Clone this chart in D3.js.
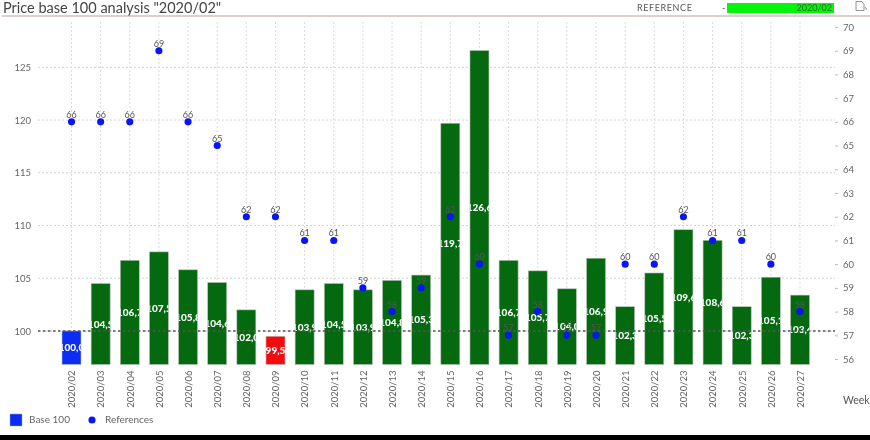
<!DOCTYPE html>
<html>
<head>
<meta charset="utf-8">
<script src="https://cdn.jsdelivr.net/npm/d3@7"></script>
<style>
  html, body { margin: 0; padding: 0; background: #fff; }
  svg { display: block; filter: blur(0.7px); font-family: Lato, "Open Sans", sans-serif; }
  .domain { display: none; }
</style>
</head>
<body>
<div id="chart"></div>
<script>
const weeks = ["2020/02","2020/03","2020/04","2020/05","2020/06","2020/07","2020/08","2020/09","2020/10","2020/11","2020/12","2020/13","2020/14","2020/15","2020/16","2020/17","2020/18","2020/19","2020/20","2020/21","2020/22","2020/23","2020/24","2020/25","2020/26","2020/27"];
const base100 = [100.0,104.5,106.7,107.5,105.8,104.6,102.0,99.5,103.9,104.5,103.9,104.8,105.3,119.7,126.6,106.7,105.7,104.0,106.9,102.3,105.5,109.6,108.6,102.3,105.1,103.4];
const references = [66,66,66,69,66,65,62,62,61,61,59,58,59,62,60,57,58,57,57,60,60,62,61,61,60,58];
const leftTicks = [100,105,110,115,120,125];
const rightTicks = d3.range(56, 71);

const width = 870, height = 440;
const plotTop = 22, plotBottom = 364.5, plotLeft = 38, plotRight = 835;

const svg = d3.select("#chart").append("svg").attr("width", width).attr("height", height);

let x = d3.scalePoint().domain(weeks).range([71.5, 800]);
let yLeft = d3.scaleLinear().domain([96.82, 129.3]).range([plotBottom, plotTop]);
let yRight = d3.scaleLinear().domain([55.77, 70.21]).range([plotBottom, plotTop]);

const barWidth = 19;

function barColor(v) {
    if (v === 100) return "#0a2cf5";
    return v < 100 ? "#f50a0f" : "#04690f";
}

// header
svg.append("text").attr("x", 3).attr("y", 13).attr("font-size", 14.5).attr("fill", "#444")
    .text('Price base 100 analysis "2020/02"');
svg.append("line").attr("x1", 2).attr("x2", 870).attr("y1", 16).attr("y2", 16)
    .attr("stroke", "#bd9c9c").attr("stroke-width", 1);
svg.append("text").attr("x", 637).attr("y", 11).attr("font-size", 9).attr("letter-spacing", 0.6).attr("fill", "#555")
    .text("REFERENCE");
svg.append("text").attr("x", 722).attr("y", 11).attr("font-size", 9).attr("fill", "#555").text("-");
svg.append("rect").attr("x", 727).attr("y", 3).attr("width", 107).attr("height", 10).attr("fill", "#05f50a");
svg.append("text").attr("x", 832).attr("y", 11).attr("text-anchor", "end").attr("font-size", 9).attr("fill", "#2a6a2a")
    .text(weeks[0]);
svg.append("path").attr("d", "M856 1.5h6l2 3v6h-8zM865 7l2 3").attr("fill", "none").attr("stroke", "#777").attr("stroke-width", 0.8);

// grid
svg.append("g").selectAll("line").data(leftTicks).enter().append("line")
    .attr("x1", plotLeft).attr("x2", plotRight)
    .attr("y1", d => yLeft(d)).attr("y2", d => yLeft(d))
    .attr("stroke", "#d2d2d2").attr("stroke-dasharray", "2,2");
svg.append("g").selectAll("line").data(weeks).enter().append("line")
    .attr("x1", d => x(d)).attr("x2", d => x(d))
    .attr("y1", plotTop).attr("y2", plotBottom)
    .attr("stroke", "#dcdcdc").attr("stroke-dasharray", "2,2");

// axes
let axisLeft = d3.axisLeft(yLeft).tickValues(leftTicks).tickSize(0).tickPadding(0);
let gLeft = svg.append("g").attr("transform", "translate(31,0)").call(axisLeft);
gLeft.selectAll("text").attr("font-size", 9.5).attr("fill", "#666").attr("font-family", "Lato, sans-serif");

let axisRight = d3.axisRight(yRight).tickValues(rightTicks).tickSize(3).tickPadding(5).tickFormat(d3.format("d"));
let gRight = svg.append("g").attr("transform", "translate(835,0)").call(axisRight);
gRight.selectAll("text").attr("font-size", 9.5).attr("fill", "#666").attr("font-family", "Lato, sans-serif");
gRight.selectAll("line").attr("stroke", "#bbb");

let axisBottom = d3.axisBottom(x).tickSize(0).tickPadding(0);
let gBottom = svg.append("g").attr("transform", "translate(0,370)").call(axisBottom);
gBottom.selectAll("text")
    .attr("transform", "rotate(-90)")
    .attr("text-anchor", "end")
    .attr("x", -0.5).attr("y", 0).attr("dy", "0.35em")
    .attr("font-size", 9.5).attr("fill", "#666").attr("font-family", "Lato, sans-serif");

svg.append("text").attr("x", 843).attr("y", 404).attr("font-size", 10.5).attr("fill", "#555").text("Week");

// bars
let rows = weeks.map((w, i) => ({week: w, value: base100[i], ref: references[i], i: i}));

svg.append("defs").selectAll("clipPath").data(rows).enter().append("clipPath")
    .attr("id", d => "bar-clip-" + d.i)
    .append("rect")
    .attr("x", d => x(d.week) - barWidth / 2).attr("width", barWidth)
    .attr("y", plotTop).attr("height", plotBottom - plotTop);

svg.append("g").selectAll("rect").data(rows).enter().append("rect")
    .attr("x", d => x(d.week) - barWidth / 2)
    .attr("width", barWidth)
    .attr("y", d => yLeft(d.value))
    .attr("height", d => plotBottom - yLeft(d.value))
    .attr("fill", d => barColor(d.value))
    .attr("stroke", "#b9c4b9").attr("stroke-width", 0.6);

svg.append("g").selectAll("text").data(rows).enter().append("text")
    .attr("clip-path", d => `url(#bar-clip-${d.i})`)
    .attr("x", d => x(d.week))
    .attr("y", d => (yLeft(d.value) + plotBottom) / 2)
    .attr("dy", "0.35em")
    .attr("text-anchor", "middle")
    .attr("font-size", 10).attr("font-weight", 900).attr("fill", "#fff")
    .text(d => d.value.toFixed(1).replace(".", ","));

// base line at 100
svg.append("line").attr("x1", plotLeft).attr("x2", plotRight)
    .attr("y1", yLeft(100)).attr("y2", yLeft(100))
    .attr("stroke", "#555").attr("stroke-width", 1.4).attr("stroke-dasharray", "2.5,2.5");

// references
let symbol = d3.symbol().type(d3.symbolCircle).size(40);
svg.append("g").selectAll("path").data(rows).enter().append("path")
    .attr("d", symbol)
    .attr("transform", d => `translate(${x(d.week)},${yRight(d.ref)})`)
    .attr("fill", "#0a14f5");
svg.append("g").selectAll("text").data(rows).enter().append("text")
    .attr("x", d => x(d.week))
    .attr("y", d => yRight(d.ref) - 4)
    .attr("text-anchor", "middle")
    .attr("font-size", 9).attr("fill", "#555")
    .text(d => d.ref);

// legend
svg.append("rect").attr("x", 10).attr("y", 414).attr("width", 12).attr("height", 12)
    .attr("fill", "#0a2cf5").attr("stroke", "#9aa").attr("stroke-width", 0.5);
svg.append("text").attr("x", 29).attr("y", 423).attr("font-size", 10).attr("fill", "#666").text("Base 100");
svg.append("path").attr("d", symbol).attr("transform", "translate(92,420)").attr("fill", "#0a14f5");
svg.append("text").attr("x", 105).attr("y", 423).attr("font-size", 10).attr("fill", "#666").text("References");

// black strip along the bottom of the screenshot
svg.append("rect").attr("x", -2).attr("y", 435).attr("width", width + 4).attr("height", 8).attr("fill", "#000");
</script>
</body>
</html>
